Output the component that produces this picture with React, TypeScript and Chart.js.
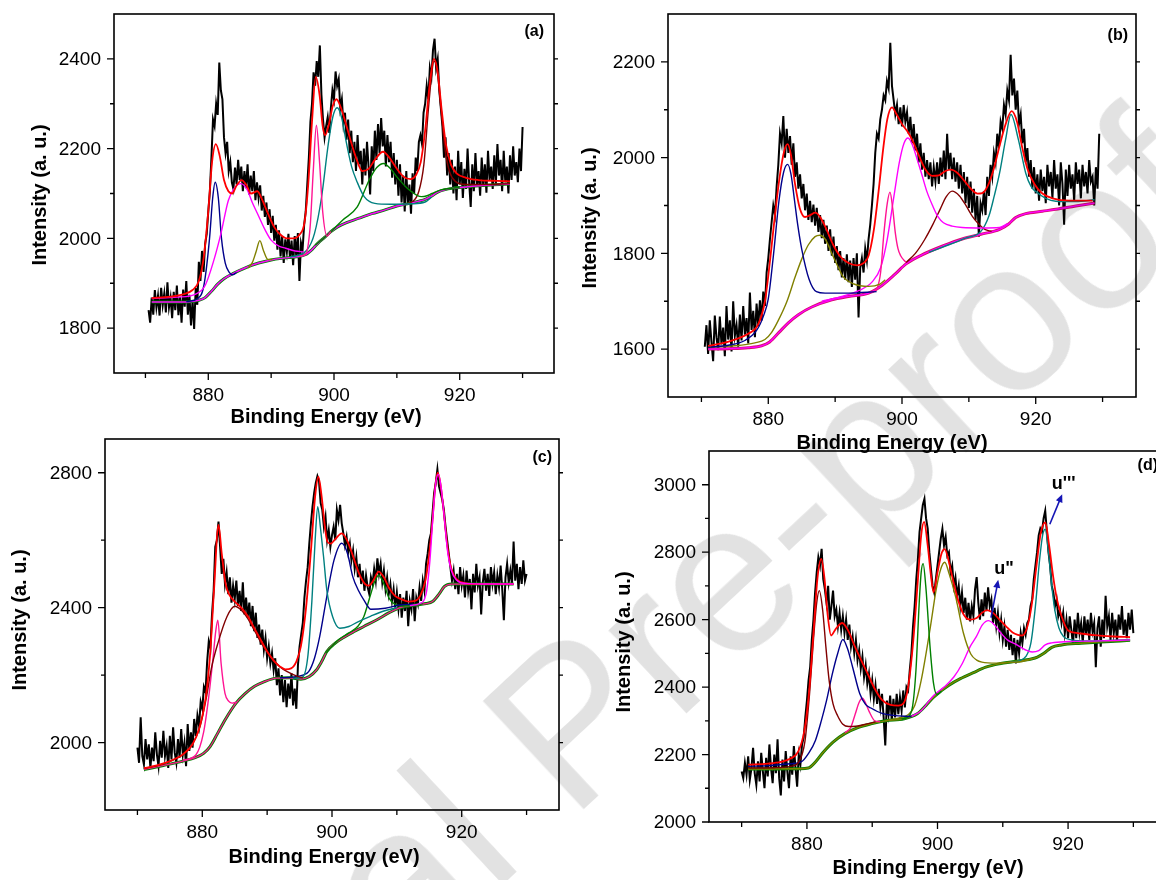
import React, { useEffect, useRef } from "react";
import { Chart, registerables } from "chart.js";

Chart.register(...registerables);

type Pair = [number, number];

const FONT = '"Liberation Sans", Arial, Helvetica, sans-serif';
const PAGE_W = 1200;
const PAGE_H = 880;

// Binding-energy window shared by the four Ce 3d spectra
const energyMin = 865;
const energyMax = 935;
const energyTicks = [880, 900, 920];
const energyMinorTicks = [870, 890, 910, 930];
const scanStep = 0.25;

// ---------------------------------------------------------------- (a)
const scanStartA = 870.5;
const countsA = [
  1840, 1812, 1868, 1830, 1885, 1846, 1872, 1828, 1890, 1851, 1877, 1835,
  1902, 1846, 1868, 1822, 1881, 1840, 1895, 1829, 1870, 1812, 1886, 1848,
  1905, 1830, 1874, 1806, 1862, 1798, 1890, 1852, 1948, 1905, 1972, 1925,
  1988, 2010, 2060, 2105, 2180, 2265, 2250, 2300, 2275, 2392, 2330, 2310,
  2225, 2190, 2215, 2150, 2170, 2125, 2110, 2158, 2120, 2175, 2130, 2160,
  2105, 2150, 2112, 2165, 2098, 2140, 2105, 2150, 2085, 2125, 2090, 2118,
  2062, 2095, 2048, 2080, 2030, 2065, 2012, 2050, 1995, 2030, 1975, 2018,
  1960, 2005, 1945, 1998, 1970, 2010, 1955, 1995, 1940, 2005, 1960, 2012,
  1905, 1990, 1975, 2030, 2060, 2120, 2180, 2260, 2300, 2370, 2340, 2395,
  2360, 2430, 2320, 2265, 2225, 2250, 2270, 2235, 2290, 2330, 2310, 2372,
  2340, 2355, 2290, 2310, 2255, 2280, 2220, 2265, 2190, 2240, 2170, 2215,
  2150, 2230, 2165, 2195, 2120, 2200, 2140, 2215, 2160, 2098, 2205, 2150,
  2240, 2175, 2255, 2190, 2268, 2205, 2240, 2160, 2230, 2170, 2215, 2135,
  2190, 2120, 2175, 2095, 2165, 2080, 2140, 2060, 2150, 2075, 2120, 2055,
  2145, 2100, 2180, 2150, 2215, 2230, 2210, 2280, 2300, 2340, 2310, 2380,
  2360, 2420, 2445, 2380, 2400, 2330, 2290, 2250, 2180, 2225, 2140, 2190,
  2120, 2175, 2100, 2160, 2085, 2195, 2120, 2170, 2090, 2155, 2110, 2200,
  2125, 2070, 2165, 2105, 2190, 2120, 2150, 2095, 2180, 2115, 2165, 2102,
  2195, 2130, 2160, 2110, 2185, 2120, 2210, 2140, 2175, 2105, 2195, 2125,
  2160, 2100, 2185, 2130, 2205, 2140, 2170, 2125, 2200, 2150, 2248,
];
const envelopeA: Pair[] = [
  [871, 1867], [874, 1870], [876, 1875], [877.5, 1885], [878.5, 1905], [879.3, 1960],
  [880, 2060], [880.6, 2170], [881.2, 2210], [881.8, 2185], [882.5, 2130], [883.2, 2105],
  [883.8, 2100], [884.5, 2118], [885.3, 2130], [886.1, 2118], [886.8, 2100], [887.8, 2105],
  [888.6, 2085], [889.5, 2055], [890.5, 2025], [891.5, 2008], [892.5, 2000], [893.5, 2000],
  [894.5, 2008], [895.3, 2035], [895.9, 2120], [896.5, 2260], [897.1, 2360], [897.7, 2320],
  [898.2, 2250], [898.6, 2230], [899.2, 2255], [899.8, 2295], [900.4, 2310], [901, 2295],
  [901.8, 2260], [902.6, 2220], [903.5, 2180], [904.5, 2150], [905.5, 2155], [906.5, 2175],
  [907.8, 2193], [908.8, 2180], [910, 2155], [911, 2138], [912.2, 2132], [913, 2140],
  [913.8, 2170], [914.5, 2240], [915.2, 2340], [915.9, 2400], [916.5, 2370], [917.1, 2290],
  [917.8, 2210], [918.6, 2165], [919.5, 2145], [921, 2135], [923, 2130], [926, 2128], [928, 2127],
];
const backgroundA: Pair[] = [
  [871, 1858], [874, 1858], [877, 1859], [878.5, 1862], [879.5, 1868], [880.5, 1882],
  [881.5, 1898], [882.5, 1910], [884, 1922], [886, 1935], [888, 1945], [890, 1952],
  [892, 1956], [894, 1959], [895.5, 1964], [896.5, 1975], [897.5, 1990], [898.5, 2002],
  [899.5, 2015], [900.5, 2025], [902, 2035], [904, 2045], [906, 2055], [908, 2063],
  [910, 2072], [912, 2078], [913.5, 2083], [914.5, 2087], [915.5, 2094], [916.5, 2103],
  [917.5, 2108], [919, 2112], [922, 2116], [925, 2119], [928, 2121],
];
const peakA881: Pair[] = [
  [876.5, 1859], [878.3, 1866], [879.3, 1895], [880.2, 2000], [880.7, 2090], [881.1, 2125],
  [881.6, 2090], [882.1, 2000], [882.7, 1945], [883.3, 1925], [883.9, 1919], [884.5, 1924],
];
const peakA885: Pair[] = [
  [871, 1866], [875, 1869], [878, 1876], [879.5, 1895], [880.9, 1952], [882, 2010],
  [883.2, 2085], [884.2, 2113], [885.2, 2122], [886.2, 2108], [887, 2080], [887.8, 2056],
  [889, 2020], [890, 1996], [891.2, 1983], [892.3, 1978], [893.8, 1972], [895.2, 1970],
];
const peakA888: Pair[] = [
  [886.3, 1934], [887, 1946], [887.6, 1970], [888.2, 1995], [888.8, 1972], [889.5, 1953], [890.2, 1953],
];
const peakA897: Pair[] = [
  [894.5, 1960], [895.5, 1965], [896.2, 2025], [896.7, 2150], [897.2, 2252], [897.7, 2170],
  [898.2, 2060], [898.9, 2005], [899.5, 2015],
];
const peakA900: Pair[] = [
  [893, 1958], [895.7, 1974], [896.9, 2011], [898, 2090], [899.1, 2211], [899.8, 2270],
  [900.5, 2291], [901.2, 2270], [902, 2211], [902.8, 2160], [903.7, 2125], [904.8, 2093],
  [906.5, 2078], [909, 2076], [912.2, 2077], [914.5, 2081], [915.5, 2092],
];
const peakA908: Pair[] = [
  [897, 1985], [899, 2008], [900.3, 2026], [901.4, 2041], [903.7, 2070], [905.6, 2130],
  [906.8, 2158], [907.9, 2167], [909, 2155], [910, 2137], [911.7, 2111], [913.2, 2096],
  [913.9, 2093], [914.8, 2095], [915.6, 2100], [917, 2108], [920, 2114],
];
const peakA916: Pair[] = [
  [911, 2076], [912.5, 2082], [913.5, 2105], [914.3, 2165], [915, 2285], [915.5, 2360],
  [915.9, 2395], [916.4, 2375], [917, 2290], [917.7, 2195], [918.4, 2148], [919.3, 2127],
  [921, 2120], [924, 2120], [928, 2122],
];
const intensityTicksA = [1800, 2000, 2200, 2400];
const intensityMinorA = [1900, 2100, 2300];

// ---------------------------------------------------------------- (b)
const scanStartB = 870.5;
const countsB = [
  1605, 1650, 1590, 1660, 1615, 1575, 1670, 1625, 1598, 1668, 1610, 1645,
  1585, 1690, 1620, 1660, 1595, 1700, 1628, 1650, 1605, 1672, 1618, 1690,
  1630, 1665, 1612, 1718, 1640, 1680, 1625, 1695, 1648, 1702, 1660, 1720,
  1690, 1760, 1790, 1830, 1865, 1900, 1880, 1940, 1985, 2050, 2030, 2087,
  2000, 2060, 2010, 2045, 1985, 2030, 1960, 1990, 1935, 1965, 1915, 1945,
  1890, 1925, 1870, 1910, 1865, 1902, 1858, 1895, 1845, 1880, 1832, 1870,
  1820, 1858, 1805, 1850, 1795, 1835, 1780, 1815, 1765, 1805, 1750, 1790,
  1745, 1798, 1740, 1785, 1730, 1790, 1745, 1800, 1666, 1770, 1790, 1760,
  1810, 1785, 1830, 1860, 1900, 1945, 2010, 2050, 2040, 2080, 2100, 2130,
  2120, 2160, 2145, 2240, 2150, 2120, 2090, 2110, 2070, 2105, 2065, 2110,
  2075, 2095, 2050, 2085, 2030, 2070, 2015, 2050, 1990, 2030, 1975, 2010,
  1960, 1995, 1955, 1990, 1940, 1980, 1950, 1990, 1945, 2000, 1960, 2015,
  1955, 2050, 1975, 2010, 1955, 2000, 1950, 1990, 1935, 1985, 1925, 1970,
  1905, 1960, 1895, 1950, 1885, 1935, 1870, 1920, 1835, 1905, 1890, 1930,
  1880, 1960, 1920, 1985, 1960, 2010, 1990, 2050, 2020, 2075, 2060, 2110,
  2090, 2140, 2120, 2215, 2130, 2165, 2100, 2140, 2070, 2090, 2030, 2060,
  1990, 2020, 1960, 1995, 1935, 1980, 1925, 1965, 1910, 1975, 1930, 1960,
  1905, 1985, 1940, 1970, 1915, 1995, 1935, 1965, 1900, 1990, 1945, 1860,
  1975, 1920, 1985, 1935, 1965, 1910, 1990, 1945, 1975, 1915, 1985, 1940,
  1970, 1925, 1995, 1950, 1960, 1900, 1980, 1935, 2050,
];
const envelopeB: Pair[] = [
  [871, 1607], [873, 1612], [875, 1620], [877, 1632], [878.5, 1652], [879.5, 1700],
  [880.3, 1790], [881, 1880], [881.7, 1960], [882.4, 2015], [882.9, 2028], [883.4, 2005],
  [884, 1945], [884.7, 1895], [885.5, 1876], [886.3, 1880], [887, 1885], [887.8, 1875],
  [888.7, 1850], [889.7, 1818], [890.8, 1793], [892, 1780], [893.3, 1775], [894.3, 1780],
  [895, 1795], [895.8, 1850], [896.5, 1930], [897.2, 2020], [897.8, 2080], [898.5, 2105],
  [899.2, 2090], [900, 2070], [900.8, 2055], [901.6, 2035], [902.5, 2005], [903.5, 1975],
  [904.5, 1962], [905.5, 1963], [906.5, 1972], [907.3, 1975], [908.3, 1968], [909.3, 1952],
  [910.3, 1935], [911.3, 1925], [912, 1926], [912.8, 1940], [913.7, 1975], [914.6, 2025],
  [915.5, 2070], [916.4, 2097], [917.2, 2075], [918, 2020], [918.8, 1975], [919.8, 1945],
  [921, 1925], [922.5, 1915], [925, 1910], [928.5, 1910],
];
const backgroundB: Pair[] = [
  [871, 1600], [874, 1601], [877, 1603], [879, 1607], [880.2, 1615], [881.6, 1635],
  [883, 1655], [884.5, 1672], [886.5, 1688], [889.5, 1703], [892, 1710], [895, 1717],
  [897, 1733], [899, 1757], [900.6, 1778], [903, 1797], [906.2, 1816], [909, 1830],
  [911.8, 1840], [914.6, 1850], [916, 1862], [917, 1875], [918.5, 1883], [921, 1888],
  [923, 1892], [926, 1899], [928.8, 1905],
];
const peakB883: Pair[] = [
  [871, 1604], [874, 1608], [876.5, 1618], [878.3, 1640], [879.3, 1670], [880, 1705],
  [880.8, 1800], [881.6, 1910], [882.3, 1970], [882.9, 1986], [883.4, 1965], [883.9, 1913],
  [884.4, 1860], [885, 1809], [886.1, 1746], [887.2, 1720], [888.5, 1717], [892, 1717], [896.2, 1720],
];
const peakB888: Pair[] = [
  [871, 1604], [875, 1607], [878, 1613], [879.5, 1620], [880.5, 1635], [881.5, 1660],
  [882.8, 1700], [884, 1750], [885, 1788], [886, 1818], [887, 1835], [887.7, 1838],
  [888.5, 1830], [889.5, 1800], [890.5, 1770], [891.1, 1753], [892.8, 1736], [895, 1731],
  [896.7, 1736], [897.5, 1745],
];
const peakB898: Pair[] = [
  [895.5, 1718], [896.3, 1728], [896.8, 1760], [897.3, 1843], [897.8, 1905], [898.2, 1928],
  [898.6, 1895], [899, 1843], [899.4, 1810], [899.8, 1795], [900.6, 1781],
];
const peakB901: Pair[] = [
  [888, 1700], [891, 1710], [893.5, 1722], [895.5, 1740], [896.8, 1770], [897.8, 1830],
  [898.8, 1920], [899.6, 1990], [900.3, 2030], [900.9, 2041], [901.6, 2025], [902.3, 1995],
  [902.9, 1968], [903.7, 1930], [904.6, 1899], [905.4, 1876], [906.2, 1864], [907.5, 1857],
  [909, 1854], [912, 1853], [914.6, 1854], [915.8, 1862],
];
const peakB908: Pair[] = [
  [900.6, 1781], [902, 1800], [903.4, 1829], [904.6, 1860], [905.7, 1892], [906.6, 1918],
  [907.5, 1930], [908.6, 1920], [909.6, 1899], [910.5, 1878], [911.3, 1864], [912.4, 1850],
  [913.4, 1846],
];
const peakB916: Pair[] = [
  [904, 1802], [907, 1818], [909.5, 1832], [911.8, 1846], [913, 1878], [913.8, 1920],
  [914.6, 1968], [915.5, 2038], [916.3, 2090], [917.4, 2038], [918.5, 1968], [919.3, 1940],
  [920.2, 1927], [921.5, 1915], [923, 1909], [926, 1908], [928.8, 1912],
];
const intensityTicksB = [1600, 1800, 2000, 2200];
const intensityMinorB = [1700, 1900, 2100];

// ---------------------------------------------------------------- (c)
const scanStartC = 870;
const countsC = [
  1985, 1940, 2075, 1960, 1935, 2010, 1950, 1995, 1925, 1985, 1945, 2030,
  1965, 1930, 2005, 1955, 2035, 1960, 1990, 1925, 2020, 1950, 2045, 1970,
  1940, 2010, 1955, 2040, 1965, 2000, 1930, 2055, 1975, 2030, 1985, 2070,
  2020, 2080, 2050, 2120, 2100, 2165, 2150, 2240, 2300, 2280, 2380, 2450,
  2580, 2600, 2655, 2580, 2500, 2545, 2470, 2505, 2440, 2490, 2415, 2465,
  2425, 2480, 2405, 2450, 2390, 2475, 2380, 2430, 2370, 2415, 2345, 2405,
  2330, 2385, 2310, 2350, 2290, 2335, 2275, 2310, 2250, 2285, 2235, 2265,
  2215, 2250, 2170, 2220, 2140, 2200, 2120, 2185, 2105, 2175, 2130, 2205,
  2110, 2160, 2100, 2230, 2285, 2320, 2355, 2430, 2480, 2520, 2590, 2650,
  2700, 2740, 2770, 2790, 2775, 2710, 2690, 2640, 2670, 2600, 2630, 2580,
  2615, 2640, 2600, 2690, 2660, 2705, 2650, 2620, 2585, 2610, 2565, 2590,
  2540, 2570, 2515, 2550, 2490, 2530, 2470, 2510, 2450, 2495, 2460, 2440,
  2490, 2470, 2515, 2480, 2546, 2500, 2530, 2475, 2510, 2455, 2490, 2440,
  2470, 2420, 2455, 2400, 2445, 2395, 2440, 2370, 2430, 2390, 2450, 2345,
  2420, 2395, 2455, 2360, 2430, 2410, 2460, 2420, 2480, 2450, 2530, 2560,
  2600, 2620, 2680, 2740, 2770, 2810, 2760, 2740, 2720, 2690, 2640, 2600,
  2560, 2520, 2480, 2510, 2455, 2500, 2440, 2520, 2465, 2495, 2430, 2510,
  2450, 2485, 2395, 2500, 2445, 2530, 2465, 2490, 2380, 2475, 2515, 2450,
  2500, 2435, 2520, 2470, 2505, 2440, 2495, 2460, 2525, 2455, 2363, 2490,
  2530, 2475, 2510, 2470, 2596, 2480, 2530, 2455, 2520, 2470, 2540, 2480,
  2500,
];
const envelopeC: Pair[] = [
  [871, 1924], [873, 1932], [875, 1945], [877, 1965], [878.5, 1995], [879.5, 2040],
  [880.5, 2130], [881.2, 2260], [881.8, 2450], [882.5, 2645], [883, 2560], [883.6, 2470],
  [884.2, 2437], [885, 2418], [886, 2400], [887, 2375], [888, 2340], [889, 2305],
  [890, 2270], [891, 2243], [892, 2225], [892.8, 2217], [893.7, 2220], [894.5, 2240],
  [895.2, 2285], [896, 2400], [896.8, 2580], [897.4, 2730], [897.9, 2788], [898.4, 2730],
  [898.9, 2640], [899.3, 2595], [899.8, 2590], [900.5, 2603], [901.5, 2620], [902.3, 2600],
  [903.2, 2555], [904.2, 2500], [905, 2472], [905.6, 2465], [906.3, 2478], [907.2, 2507],
  [908, 2490], [908.8, 2458], [909.7, 2435], [910.7, 2425], [911.8, 2418], [912.8, 2420],
  [913.6, 2435], [914.4, 2480], [915, 2560], [915.5, 2660], [915.9, 2755], [916.3, 2800],
  [916.7, 2770], [917.2, 2690], [917.8, 2580], [918.4, 2515], [919.2, 2485], [920.5, 2473],
  [923, 2470], [926, 2470], [928, 2470],
];
const backgroundC: Pair[] = [
  [871, 1920], [874, 1932], [877, 1945], [879, 1956], [880.2, 1968], [881.2, 1988],
  [882.3, 2025], [883.5, 2067], [885.2, 2117], [886.6, 2145], [888, 2166], [889.5, 2180],
  [891.4, 2191], [893.5, 2192], [895.2, 2188], [896.5, 2196], [897.6, 2215], [898.4, 2240],
  [899.2, 2270], [900.5, 2295], [902, 2314], [903.5, 2330], [904.9, 2344], [907, 2365],
  [908.8, 2385], [910.5, 2400], [912.5, 2407], [914.5, 2412], [915.5, 2418], [916.5, 2440],
  [917.3, 2462], [918.4, 2470], [921, 2470], [925, 2470], [928, 2470],
];
const peakC882: Pair[] = [
  [877, 1948], [879, 1963], [880.2, 2030], [881, 2136], [881.6, 2240], [882.1, 2334],
  [882.4, 2363], [882.9, 2235], [883.5, 2146], [884.1, 2122], [884.6, 2117], [885.3, 2120],
];
const peakC885: Pair[] = [
  [871, 1923], [873, 1931], [875, 1944], [877, 1964], [878.5, 1995], [879.7, 2050],
  [880.6, 2130], [881.4, 2220], [882.4, 2294], [883.8, 2373], [885, 2404], [886, 2393],
  [887, 2368], [888, 2334], [889, 2298], [890.8, 2250], [892, 2224], [893.1, 2210],
  [894.7, 2196], [895.5, 2192],
];
const peakC898: Pair[] = [
  [894, 2190], [895.5, 2195], [896.3, 2260], [896.9, 2420], [897.4, 2600], [897.8, 2699],
  [898.2, 2640], [898.7, 2551], [899.2, 2452], [900.1, 2373], [901.2, 2339], [902.6, 2344],
  [904, 2358], [906, 2375], [908, 2390], [910, 2400],
];
const peakC901: Pair[] = [
  [892, 2192], [894, 2194], [895.5, 2200], [896.4, 2210], [897.3, 2250], [898.1, 2314],
  [899.2, 2433], [900.3, 2540], [901.5, 2591], [902.4, 2560], [903.2, 2492], [904.1, 2450],
  [904.9, 2423], [906, 2395], [908.2, 2398], [910.5, 2408], [912.5, 2410],
];
const peakC907: Pair[] = [
  [899, 2265], [901, 2305], [902.6, 2325], [904, 2345], [904.9, 2373], [906, 2442],
  [906.6, 2478], [907.2, 2496], [907.9, 2475], [908.8, 2428], [909.9, 2408], [911, 2405],
  [912.5, 2407], [914, 2411],
];
const peakC916: Pair[] = [
  [912, 2406], [913.5, 2412], [914.5, 2440], [915.1, 2540], [915.6, 2680], [916, 2770],
  [916.4, 2795], [916.8, 2760], [917.3, 2670], [917.8, 2570], [918.4, 2510], [919.2, 2482],
  [920.5, 2472], [924, 2470], [928, 2470],
];
const intensityTicksC = [2000, 2400, 2800];
const intensityMinorC = [2200, 2600];

// ---------------------------------------------------------------- (d)
const scanStartD = 870;
const countsD = [
  2150, 2130, 2175, 2140, 2195, 2125, 2160, 2220, 2145, 2110, 2180, 2120,
  2205, 2150, 2100, 2190, 2135, 2230, 2160, 2115, 2200, 2145, 2245, 2130,
  2079, 2185, 2120, 2210, 2150, 2100, 2195, 2140, 2225, 2160, 2105, 2200,
  2170, 2230, 2250, 2310, 2360, 2420, 2460, 2540, 2600, 2680, 2740, 2785,
  2760, 2810, 2720, 2690, 2650, 2700, 2600, 2640, 2686, 2610, 2630, 2580,
  2620, 2570, 2610, 2560, 2600, 2540, 2585, 2520, 2550, 2500, 2540, 2480,
  2510, 2455, 2490, 2430, 2465, 2410, 2440, 2380, 2420, 2365, 2405, 2350,
  2395, 2340, 2380, 2310, 2227, 2360, 2320, 2375, 2300, 2365, 2310, 2380,
  2320, 2370, 2330, 2390, 2340, 2400, 2390, 2450, 2500, 2580, 2640, 2720,
  2780, 2860, 2900, 2940, 2958, 2900, 2870, 2800, 2750, 2700, 2680, 2720,
  2760, 2800, 2840, 2869, 2820, 2845, 2790, 2800, 2740, 2760, 2700, 2725,
  2670, 2700, 2640, 2680, 2620, 2665, 2600, 2650, 2595, 2640, 2610, 2690,
  2726, 2650, 2600, 2660, 2610, 2680, 2625, 2696, 2640, 2660, 2590, 2635,
  2580, 2620, 2560, 2600, 2540, 2580, 2520, 2570, 2510, 2555, 2495, 2545,
  2470, 2540, 2500, 2560, 2530, 2575, 2555, 2590, 2600, 2640, 2660, 2720,
  2760, 2800, 2850, 2870, 2860, 2900, 2923, 2860, 2800, 2760, 2700, 2680,
  2640, 2660, 2610, 2630, 2590, 2620, 2560, 2600, 2545, 2610, 2570, 2525,
  2600, 2545, 2620, 2560, 2590, 2530, 2610, 2555, 2600, 2540, 2620, 2565,
  2590, 2459, 2575, 2610, 2520, 2600, 2545, 2671, 2580, 2610, 2540, 2620,
  2560, 2600, 2535, 2615, 2570, 2640, 2555, 2600, 2545, 2620, 2570, 2630,
  2560,
];
const envelopeD: Pair[] = [
  [871, 2170], [874, 2173], [876, 2178], [877.5, 2188], [878.7, 2210], [879.6, 2270],
  [880.3, 2380], [881, 2560], [881.6, 2720], [882.2, 2780], [882.7, 2720], [883.2, 2610],
  [883.7, 2553], [884.4, 2572], [885.4, 2590], [886.3, 2568], [887.3, 2522], [888.3, 2480],
  [889.3, 2440], [890.3, 2398], [891.5, 2362], [892.8, 2347], [894, 2345], [894.8, 2352],
  [895.5, 2400], [896.3, 2540], [897, 2720], [897.5, 2850], [897.95, 2890], [898.5, 2820],
  [899, 2730], [899.4, 2681], [900, 2740], [900.6, 2795], [901.1, 2809], [901.7, 2775],
  [902.4, 2715], [903.2, 2655], [904, 2615], [905, 2600], [906, 2605], [906.8, 2620],
  [907.6, 2628], [908.5, 2620], [909.5, 2600], [910.5, 2580], [911.5, 2562], [912.3, 2555],
  [913, 2553], [913.7, 2575], [914.4, 2640], [915.1, 2750], [915.8, 2855], [916.5, 2888],
  [917.1, 2820], [917.7, 2730], [918.3, 2660], [919, 2610], [920, 2568], [921.5, 2560],
  [924, 2554], [927, 2550], [929.5, 2548],
];
const backgroundD: Pair[] = [
  [871, 2157], [874, 2157], [877, 2158], [879, 2158], [880.2, 2160], [881.3, 2178],
  [882.5, 2207], [884, 2237], [885.8, 2262], [887.8, 2280], [889.8, 2291], [892, 2300],
  [894.9, 2306], [896.9, 2321], [898.2, 2345], [899.4, 2370], [900.5, 2388], [901.7, 2405],
  [903.5, 2425], [905.5, 2443], [907.4, 2459], [909.5, 2469], [911.5, 2475], [913, 2479],
  [914.5, 2484], [915.3, 2489], [916.3, 2500], [917.5, 2518], [919, 2525], [922, 2530],
  [925, 2534], [928, 2537], [929.5, 2539],
];
const peakD882: Pair[] = [
  [871, 2160], [875, 2161], [877.5, 2165], [878.8, 2180], [879.7, 2240], [880.4, 2380],
  [881, 2540], [881.5, 2650], [881.9, 2686], [882.4, 2630], [882.9, 2520], [883.4, 2420],
  [884, 2350], [884.7, 2315], [885.5, 2290], [886.4, 2283], [887.5, 2284], [889, 2290], [890.5, 2297],
];
const peakD885: Pair[] = [
  [871, 2165], [874, 2167], [877, 2172], [879.1, 2178], [880.3, 2205], [881.3, 2242],
  [882.2, 2300], [883, 2360], [883.9, 2440], [884.7, 2499], [885.5, 2541], [886.2, 2515],
  [887, 2459], [888.1, 2380], [889, 2348], [889.8, 2338], [891.5, 2322], [893.2, 2316], [896, 2313],
];
const peakD888: Pair[] = [
  [885.8, 2265], [886.7, 2280], [887.4, 2320], [888, 2355], [888.5, 2367], [889, 2352],
  [889.6, 2325], [890.4, 2300], [891.2, 2298],
];
const peakD898: Pair[] = [
  [894.5, 2305], [895.5, 2312], [896.2, 2345], [896.7, 2450], [897.2, 2650], [897.5, 2740],
  [897.8, 2766], [898.2, 2700], [898.9, 2509], [899.4, 2410], [899.9, 2378], [900.6, 2388],
];
const peakD901: Pair[] = [
  [892, 2300], [894, 2308], [895.5, 2318], [896.5, 2345], [897.5, 2420], [898.9, 2577],
  [899.8, 2690], [900.5, 2750], [901.1, 2770], [901.8, 2735], [902.8, 2666], [904, 2558],
  [905.1, 2498], [906, 2480], [906.8, 2474], [909, 2471], [911, 2473], [913, 2476], [914.5, 2484],
];
const peakD908: Pair[] = [
  [896, 2313], [897.5, 2330], [899.4, 2375], [901, 2400], [902.5, 2430], [903.8, 2470],
  [905, 2520], [905.9, 2548], [906.9, 2585], [907.8, 2597], [908.7, 2585], [909.6, 2563],
  [910.7, 2540], [911.9, 2528], [913.5, 2510], [914.5, 2504], [915.5, 2508], [916.5, 2525],
  [917.5, 2531], [920, 2535], [925, 2537], [929.5, 2540],
];
const peakD916: Pair[] = [
  [911, 2473], [912.5, 2478], [913.5, 2490], [914.3, 2530], [915, 2640], [915.6, 2770],
  [916.1, 2850], [916.5, 2868], [917, 2800], [917.5, 2700], [918, 2625], [918.6, 2575],
  [919.3, 2550], [920.5, 2540], [923, 2537], [926, 2538], [929.5, 2540],
];
const intensityTicksD = [2000, 2200, 2400, 2600, 2800, 3000];
const intensityMinorD = [2100, 2300, 2500, 2700, 2900];

// Peak assignments marked in panel (d): label anchor, arrow tail, arrow head
const satelliteNotesD = [
  { text: 'u"', at: [908.7, 2734] as Pair, from: [908.2, 2606] as Pair, to: [909.3, 2718] as Pair },
  { text: "u'''", at: [917.5, 2986] as Pair, from: [917.2, 2883] as Pair, to: [919.1, 2972] as Pair },
];

// ---------------------------------------------------------------- layout
type Curve = { data: Pair[]; color: string; width: number };
type Note = { text: string; at: Pair; from: Pair; to: Pair };
type Panel = {
  tag: string;
  area: { left: number; top: number; right: number; bottom: number };
  yMin: number;
  yMax: number;
  yTicks: number[];
  yMinor: number[];
  scanStart: number;
  counts: number[];
  curves: Curve[]; // first entry is painted on top
  xTitleAt: Pair;
  yTitleAt: Pair;
  tagAt: Pair;
  notes?: Note[];
};

const RED = "#ff0000";
const NAVY = "#00008b";
const MAGENTA = "#ff00ff";
const PINK = "#ff1493";
const OLIVE = "#808000";
const TEAL = "#008080";
const GREEN = "#008000";
const MAROON = "#800000";

const panels: Panel[] = [
  {
    tag: "(a)",
    area: { left: 114, top: 14, right: 554, bottom: 373 },
    yMin: 1700,
    yMax: 2500,
    yTicks: intensityTicksA,
    yMinor: intensityMinorA,
    scanStart: scanStartA,
    counts: countsA,
    curves: [
      { data: envelopeA, color: RED, width: 1.8 },
      { data: peakA885, color: MAGENTA, width: 1.4 },
      { data: peakA881, color: NAVY, width: 1.4 },
      { data: peakA897, color: PINK, width: 1.4 },
      { data: peakA900, color: TEAL, width: 1.4 },
      { data: peakA908, color: GREEN, width: 1.4 },
      { data: peakA888, color: OLIVE, width: 1.4 },
      { data: peakA916, color: MAROON, width: 1.4 },
      { data: backgroundA, color: MAGENTA, width: 1.5 },
      { data: backgroundA, color: GREEN, width: 3 },
    ],
    xTitleAt: [326, 417],
    yTitleAt: [40, 195],
    tagAt: [544, 32],
  },
  {
    tag: "(b)",
    area: { left: 668, top: 14, right: 1136, bottom: 397 },
    yMin: 1500,
    yMax: 2300,
    yTicks: intensityTicksB,
    yMinor: intensityMinorB,
    scanStart: scanStartB,
    counts: countsB,
    curves: [
      { data: envelopeB, color: RED, width: 1.8 },
      { data: peakB883, color: NAVY, width: 1.4 },
      { data: peakB888, color: OLIVE, width: 1.4 },
      { data: peakB898, color: PINK, width: 1.4 },
      { data: peakB901, color: MAGENTA, width: 1.4 },
      { data: peakB908, color: MAROON, width: 1.4 },
      { data: peakB916, color: TEAL, width: 1.4 },
      { data: backgroundB, color: MAGENTA, width: 1.3 },
      { data: backgroundB, color: "#d6106e", width: 3 },
    ],
    xTitleAt: [892, 443],
    yTitleAt: [590, 218],
    tagAt: [1128, 36],
  },
  {
    tag: "(c)",
    area: { left: 105, top: 439, right: 559, bottom: 810 },
    yMin: 1800,
    yMax: 2900,
    yTicks: intensityTicksC,
    yMinor: intensityMinorC,
    scanStart: scanStartC,
    counts: countsC,
    curves: [
      { data: peakC916, color: MAGENTA, width: 1.4 },
      { data: envelopeC, color: RED, width: 1.8 },
      { data: peakC885, color: MAROON, width: 1.4 },
      { data: peakC882, color: PINK, width: 1.4 },
      { data: peakC898, color: TEAL, width: 1.4 },
      { data: peakC901, color: NAVY, width: 1.4 },
      { data: peakC907, color: GREEN, width: 1.4 },
      { data: backgroundC, color: PINK, width: 1.2 },
      { data: backgroundC, color: GREEN, width: 3 },
    ],
    xTitleAt: [324, 857],
    yTitleAt: [20, 620],
    tagAt: [552, 458],
  },
  {
    tag: "(d)",
    area: { left: 709, top: 451, right: 1166, bottom: 822 },
    yMin: 2000,
    yMax: 3100,
    yTicks: intensityTicksD,
    yMinor: intensityMinorD,
    scanStart: scanStartD,
    counts: countsD,
    curves: [
      { data: envelopeD, color: RED, width: 1.8 },
      { data: peakD882, color: MAROON, width: 1.4 },
      { data: peakD885, color: NAVY, width: 1.4 },
      { data: peakD888, color: PINK, width: 1.4 },
      { data: peakD898, color: GREEN, width: 1.4 },
      { data: peakD901, color: OLIVE, width: 1.4 },
      { data: peakD908, color: MAGENTA, width: 1.4 },
      { data: peakD916, color: TEAL, width: 1.4 },
      { data: backgroundD, color: OLIVE, width: 1.4 },
      { data: backgroundD, color: GREEN, width: 3 },
    ],
    xTitleAt: [928, 868],
    yTitleAt: [624, 642],
    tagAt: [1158, 466],
    notes: satelliteNotesD,
  },
];

function buildDatasets(p: Panel) {
  const fits = p.curves.map((c) => ({
    data: c.data.map(([x, y]) => ({ x, y })),
    borderColor: c.color,
    borderWidth: c.width,
    pointRadius: 0,
    fill: false,
    cubicInterpolationMode: "monotone" as const,
  }));
  const scan = {
    data: p.counts.map((y, i) => ({ x: p.scanStart + i * scanStep, y })),
    borderColor: "#000000",
    borderWidth: 2,
    pointRadius: 0,
    fill: false,
    tension: 0,
  };
  return [...fits, scan];
}

function drawArrow(ctx: CanvasRenderingContext2D, x0: number, y0: number, x1: number, y1: number) {
  const ang = Math.atan2(y1 - y0, x1 - x0);
  const head = 8;
  const half = 3.5;
  ctx.beginPath();
  ctx.moveTo(x0, y0);
  ctx.lineTo(x1 - head * 0.7 * Math.cos(ang), y1 - head * 0.7 * Math.sin(ang));
  ctx.stroke();
  ctx.beginPath();
  ctx.moveTo(x1, y1);
  ctx.lineTo(x1 - head * Math.cos(ang) + half * Math.sin(ang), y1 - head * Math.sin(ang) - half * Math.cos(ang));
  ctx.lineTo(x1 - head * Math.cos(ang) - half * Math.sin(ang), y1 - head * Math.sin(ang) + half * Math.cos(ang));
  ctx.closePath();
  ctx.fill();
}

// Frame, outward tick marks, tick labels, axis titles, panel tag and notes
function decorations(p: Panel) {
  return {
    id: "decor",
    afterDraw(chart: Chart) {
      const { ctx, chartArea: a } = chart;
      const xs = chart.scales.x;
      const ys = chart.scales.y;
      ctx.save();
      ctx.strokeStyle = "#000";
      ctx.fillStyle = "#000";
      ctx.lineWidth = 1.6;
      ctx.strokeRect(a.left, a.top, a.right - a.left, a.bottom - a.top);

      ctx.lineWidth = 1.3;
      ctx.beginPath();
      for (const v of energyTicks) {
        const px = xs.getPixelForValue(v);
        ctx.moveTo(px, a.bottom);
        ctx.lineTo(px, a.bottom + 7);
      }
      for (const v of energyMinorTicks) {
        const px = xs.getPixelForValue(v);
        ctx.moveTo(px, a.bottom);
        ctx.lineTo(px, a.bottom + 5);
      }
      for (const v of p.yTicks) {
        const py = ys.getPixelForValue(v);
        ctx.moveTo(a.left, py);
        ctx.lineTo(a.left - 7, py);
        ctx.moveTo(a.right, py);
        ctx.lineTo(a.right + 4, py);
      }
      for (const v of p.yMinor) {
        const py = ys.getPixelForValue(v);
        ctx.moveTo(a.left, py);
        ctx.lineTo(a.left - 4, py);
        ctx.moveTo(a.right, py);
        ctx.lineTo(a.right + 4, py);
      }
      ctx.stroke();

      ctx.font = `19px ${FONT}`;
      ctx.textBaseline = "middle";
      ctx.textAlign = "center";
      for (const v of energyTicks) {
        ctx.fillText(String(v), xs.getPixelForValue(v), a.bottom + 23);
      }
      ctx.textAlign = "right";
      for (const v of p.yTicks) {
        ctx.fillText(String(v), a.left - 13, ys.getPixelForValue(v) + 1);
      }

      ctx.font = `bold 20px ${FONT}`;
      ctx.textAlign = "center";
      ctx.fillText("Binding Energy (eV)", p.xTitleAt[0], p.xTitleAt[1]);
      ctx.save();
      ctx.translate(p.yTitleAt[0], p.yTitleAt[1]);
      ctx.rotate(-Math.PI / 2);
      ctx.fillText("Intensity (a. u.)", 0, 0);
      ctx.restore();

      ctx.font = `bold 16px ${FONT}`;
      ctx.textAlign = "right";
      ctx.fillText(p.tag, p.tagAt[0], p.tagAt[1]);

      if (p.notes) {
        ctx.strokeStyle = "#1515b5";
        ctx.fillStyle = "#1515b5";
        ctx.lineWidth = 1.6;
        for (const n of p.notes) {
          drawArrow(
            ctx,
            xs.getPixelForValue(n.from[0]),
            ys.getPixelForValue(n.from[1]),
            xs.getPixelForValue(n.to[0]),
            ys.getPixelForValue(n.to[1])
          );
        }
        ctx.fillStyle = "#000";
        ctx.font = `bold 18px ${FONT}`;
        ctx.textAlign = "left";
        ctx.textBaseline = "alphabetic";
        for (const n of p.notes) {
          ctx.fillText(n.text, xs.getPixelForValue(n.at[0]), ys.getPixelForValue(n.at[1]));
        }
      }
      ctx.restore();
    },
  };
}

function SpectrumPanel({ panel }: { panel: Panel }) {
  const ref = useRef<HTMLCanvasElement | null>(null);
  useEffect(() => {
    const canvas = ref.current;
    if (!canvas) return;
    const a = panel.area;
    const chart = new Chart(canvas, {
      type: "line",
      data: { datasets: buildDatasets(panel) as any },
      options: {
        responsive: false,
        animation: false,
        devicePixelRatio: 1,
        events: [],
        layout: {
          padding: { left: a.left, top: a.top, right: PAGE_W - a.right, bottom: PAGE_H - a.bottom },
        },
        plugins: { legend: { display: false }, tooltip: { enabled: false } },
        scales: {
          x: { type: "linear", display: false, min: energyMin, max: energyMax },
          y: { type: "linear", display: false, min: panel.yMin, max: panel.yMax },
        },
      },
      plugins: [decorations(panel)],
    });
    return () => chart.destroy();
  }, [panel]);
  return (
    <canvas
      ref={ref}
      width={PAGE_W}
      height={PAGE_H}
      style={{ position: "absolute", left: 0, top: 0, width: PAGE_W, height: PAGE_H }}
    />
  );
}

export default function App() {
  return (
    <div
      style={{
        position: "fixed",
        left: 0,
        top: 0,
        width: 1156,
        height: 880,
        overflow: "hidden",
        background: "#ffffff",
      }}
    >
      {panels.map((p) => (
        <SpectrumPanel key={p.tag} panel={p} />
      ))}
      {/* diagonal manuscript-stage watermark */}
      <div
        style={{
          position: "absolute",
          left: 568,
          top: 722,
          transform: "translate(-50%, -50%) rotate(-43deg)",
          font: `215px ${FONT}`,
          lineHeight: 1,
          whiteSpace: "nowrap",
          color: "#e2e2e2",
          mixBlendMode: "multiply",
          pointerEvents: "none",
        }}
      >
        Journal Pre-proof
      </div>
    </div>
  );
}
